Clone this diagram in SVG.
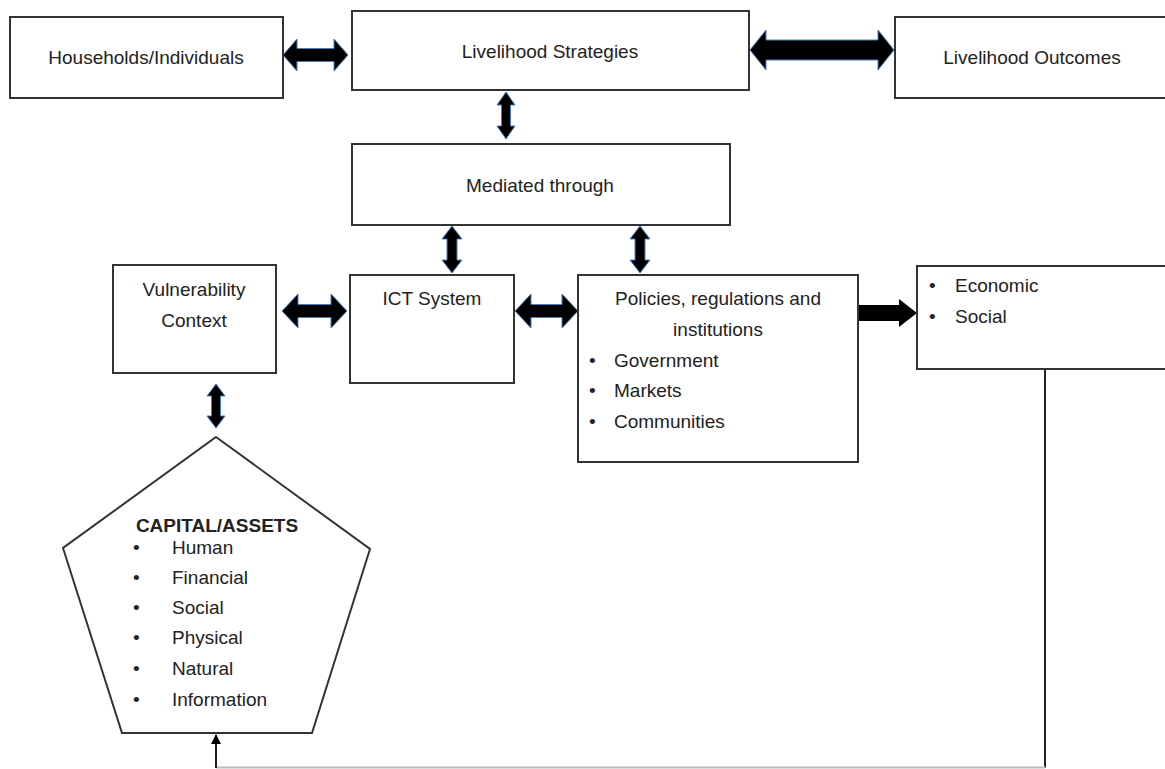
<svg xmlns="http://www.w3.org/2000/svg" width="1165" height="769" viewBox="0 0 1165 769">
<style>
.box{fill:#fff;stroke:#333;stroke-width:2}
.t{font-family:"Liberation Sans",Arial,sans-serif;font-size:19px;fill:#222}
.c{text-anchor:middle}
.b{font-weight:bold;font-size:19px}
.blk{fill:#000;stroke:#4a7ebb;stroke-width:1;stroke-linejoin:miter}
.ln{fill:none;stroke:#222;stroke-width:2}
</style>
<defs>
<marker id="ah" viewBox="0 0 10 10" refX="9" refY="5" markerWidth="5" markerHeight="5" orient="auto" markerUnits="strokeWidth">
<path d="M0 0 L10 5 L0 10 Z" fill="#000"/>
</marker>
</defs>
<rect width="1165" height="769" fill="#fff"/>

<g id="connectors">
<path class="blk" d="M283 55 L297 39 L297 48.5 L334 48.5 L334 39 L348 55 L334 71 L334 61.5 L297 61.5 L297 71 Z"/>
<path class="blk" d="M750 50 L766 30 L766 40 L878 40 L878 30 L894 50 L878 70 L878 60 L766 60 L766 70 Z"/>
<path class="blk" d="M506 92 L515 105 L510.5 105 L510.5 126 L515 126 L506 139 L497 126 L501.5 126 L501.5 105 L497 105 Z"/>
<path class="blk" d="M452 226 L462 239 L457 239 L457 260 L462 260 L452 273 L442 260 L447 260 L447 239 L442 239 Z"/>
<path class="blk" d="M640 226 L650 239 L645 239 L645 260 L650 260 L640 273 L630 260 L635 260 L635 239 L630 239 Z"/>
<path class="blk" d="M282 311 L298 294 L298 304.5 L331 304.5 L331 294 L347 311 L331 328 L331 317.5 L298 317.5 L298 328 Z"/>
<path class="blk" d="M515 311 L531 294 L531 304.5 L562 304.5 L562 294 L578 311 L562 328 L562 317.5 L531 317.5 L531 328 Z"/>
<path class="blk" d="M216 384 L225 396 L220.5 396 L220.5 416 L225 416 L216 428 L207 416 L211.5 416 L211.5 396 L207 396 Z"/>
<path d="M858 305 L899 305 L899 299 L917 313 L899 327 L899 321 L858 321 Z" fill="#000"/>
<path class="ln" d="M1045 369 L1045 767.5"/>
<path d="M1045 767.5 L216 767.5" fill="none" stroke="#bbb" stroke-width="2"/>
<path class="ln" d="M216 768 L216 735" marker-end="url(#ah)"/>
</g>

<g id="households">
<rect class="box" x="10" y="17" width="273" height="81"/>
<text class="t c" x="146" y="64">Households/Individuals</text>
</g>
<g id="strategies">
<rect class="box" x="352" y="11" width="397" height="79"/>
<text class="t c" x="550" y="58">Livelihood Strategies</text>
</g>
<g id="outcomes">
<rect class="box" x="895" y="17" width="275" height="81"/>
<text class="t c" x="1032" y="64">Livelihood Outcomes</text>
</g>
<g id="mediated">
<rect class="box" x="352" y="144" width="378" height="81"/>
<text class="t c" x="540" y="192">Mediated through</text>
</g>
<g id="vulnerability">
<rect class="box" x="113" y="265" width="163" height="108"/>
<text class="t c" x="194" y="296">Vulnerability</text>
<text class="t c" x="194" y="327">Context</text>
</g>
<g id="ict">
<rect class="box" x="350" y="275" width="164" height="108"/>
<text class="t c" x="432" y="305">ICT System</text>
</g>
<g id="policies">
<rect class="box" x="578" y="275" width="280" height="187"/>
<text class="t c" x="718" y="305">Policies, regulations and</text>
<text class="t c" x="718" y="336">institutions</text>
<text class="t" x="589" y="367">•</text><text class="t" x="614" y="367">Government</text>
<text class="t" x="589" y="397">•</text><text class="t" x="614" y="397">Markets</text>
<text class="t" x="589" y="428">•</text><text class="t" x="614" y="428">Communities</text>
</g>
<g id="economic">
<rect class="box" x="917" y="266" width="253" height="103"/>
<text class="t" x="929" y="292">•</text><text class="t" x="955" y="292">Economic</text>
<text class="t" x="929" y="323">•</text><text class="t" x="955" y="323">Social</text>
</g>
<g id="capital">
<polygon class="box" points="216,437 370,549 312,733 122,733 63,548"/>
<text class="t b c" x="217" y="532">CAPITAL/ASSETS</text>
<text class="t" x="133" y="554">•</text><text class="t" x="172" y="554">Human</text>
<text class="t" x="133" y="584">•</text><text class="t" x="172" y="584">Financial</text>
<text class="t" x="133" y="614">•</text><text class="t" x="172" y="614">Social</text>
<text class="t" x="133" y="644">•</text><text class="t" x="172" y="644">Physical</text>
<text class="t" x="133" y="675">•</text><text class="t" x="172" y="675">Natural</text>
<text class="t" x="133" y="706">•</text><text class="t" x="172" y="706">Information</text>
</g>
</svg>
